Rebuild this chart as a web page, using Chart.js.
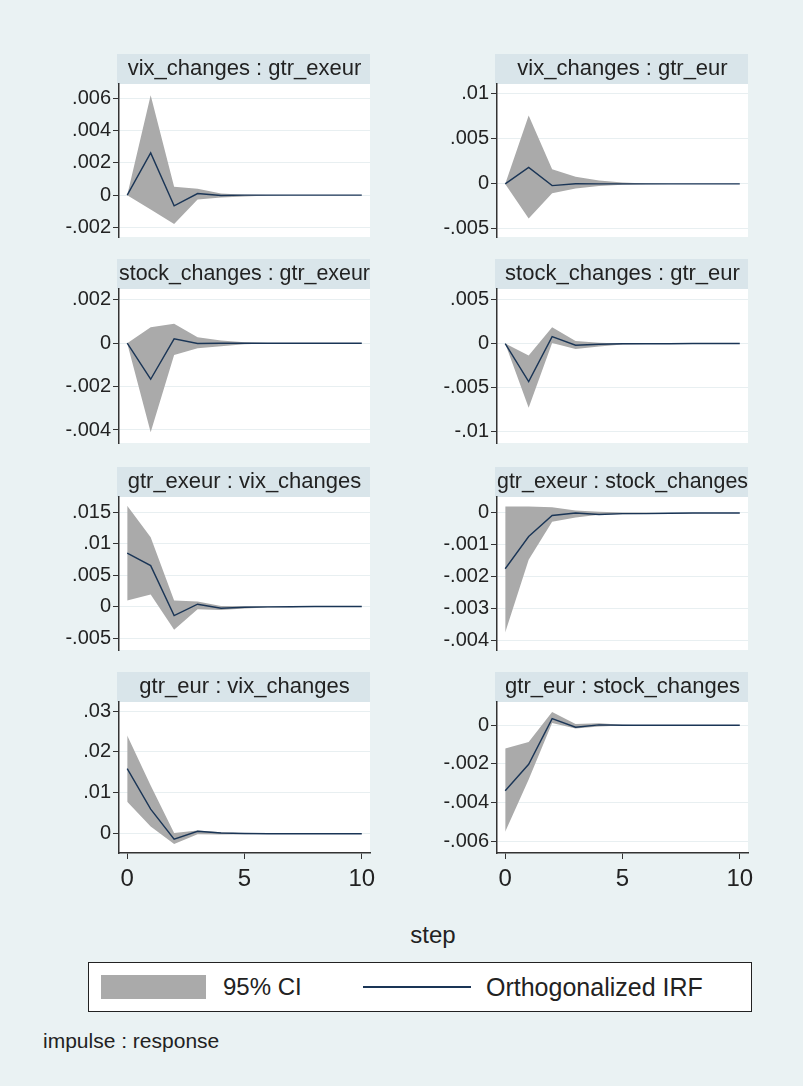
<!DOCTYPE html>
<html>
<head>
<meta charset="utf-8">
<title>IRF</title>
<script src="https://cdn.jsdelivr.net/npm/chart.js@4.4.1/dist/chart.umd.min.js"></script>
<style>
  body { margin:0; background:#eaf2f3; width:803px; height:1086px; position:relative; overflow:hidden;
         font-family:"Liberation Sans", Arial, sans-serif; color:#222; }
  canvas { position:absolute; }
  .txt { position:absolute; white-space:nowrap; line-height:1; }
  #legend { position:absolute; left:88px; top:962px; width:662px; height:48px; border:1px solid #222; background:#fff; }
</style>
</head>
<body>
<div class="txt" style="left:433px;top:935px;transform:translate(-50%,-50%);font-size:24px">step</div>
<div id="legend">
  <div style="position:absolute;left:12px;top:12px;width:105px;height:24px;background:#aaaaaa"></div>
  <div class="txt" style="left:134px;top:24px;transform:translateY(-50%);font-size:24px">95% CI</div>
  <div style="position:absolute;left:274px;top:23px;width:108px;height:2px;background:#1a3556"></div>
  <div class="txt" style="left:397px;top:24px;transform:translateY(-50%);font-size:25px">Orthogonalized IRF</div>
</div>
<div class="txt" style="left:43px;top:1040px;transform:translateY(-50%);font-size:21px">impulse : response</div>

<script>
const steps = [0, 1, 2, 3, 4, 5, 6, 7, 8, 9, 10];
const xTicks = [0, 5, 10];

// impulse : response panels (irf, lower, upper)
const vixExeurIrf = [0, .00262, -.00066, .0001, -.00002, 0, 0, 0, 0, 0, 0];
const vixExeurLo  = [0, -.0009, -.0018, -.00027, -.00015, -.00008, -.00003, 0, 0, 0, 0];
const vixExeurHi  = [0, .0062, .00052, .0004, .0001, .00003, .00001, 0, 0, 0, 0];

const vixEurIrf = [0, .00183, -.00019, .00001, 0, 0, 0, 0, 0, 0, 0];
const vixEurLo  = [0, -.00384, -.00104, -.0005, -.00022, -.0001, -.00004, 0, 0, 0, 0];
const vixEurHi  = [0, .0076, .00164, .0008, .00037, .00015, .00005, 0, 0, 0, 0];

const stockExeurIrf = [0, -.00166, .0002, -.00001, 0, 0, 0, 0, 0, 0, 0];
const stockExeurLo  = [0, -.0041, -.00054, -.00023, -.00014, -.00005, -.00001, 0, 0, 0, 0];
const stockExeurHi  = [0, .00074, .0009, .00028, .00012, .00004, .00001, 0, 0, 0, 0];

const stockEurIrf = [0, -.00433, .00078, -.00019, -.00007, -.00002, -.00002, -.00002, 0, 0, 0];
const stockEurLo  = [0, -.0073, .00005, -.00063, -.00033, -.0001, -.00006, -.00005, 0, 0, 0];
const stockEurHi  = [0, -.00137, .00185, .0003, .0001, .00002, .00001, .00001, 0, 0, 0];

const exeurVixIrf = [.0085, .0065, -.00144, .00037, -.00027, -.0001, -.00005, -.00003, 0, 0, 0];
const exeurVixLo  = [.00096, .0019, -.0037, -.00043, -.00053, -.0003, -.00015, -.0001, 0, 0, 0];
const exeurVixHi  = [.016, .011, .00096, .0008, .0001, .00005, .00002, .00001, 0, 0, 0];

const exeurStockIrf = [-.00175, -.00074, -.00008, 0, -.00005, -.00002, -.00002, -.00001, 0, 0, 0];
const exeurStockLo  = [-.00375, -.00147, -.00028, -.00014, -.00006, -.00004, -.00003, -.00003, -.00001, 0, 0];
const exeurStockHi  = [.0002, .0002, .00018, .00008, .00004, .00001, .00001, 0, 0, 0, 0];

const eurVixIrf = [.0159, .006, -.0013, .0006, .0002, .00005, 0, 0, 0, 0, 0];
const eurVixLo  = [.0078, .0018, -.0025, -.0001, -.0002, -.0001, -.00002, 0, 0, 0, 0];
const eurVixHi  = [.024, .0118, .0002, .0008, .0004, .0001, .00002, 0, 0, 0, 0];

const eurStockIrf = [-.00338, -.00202, .00034, -.0001, .00002, 0, 0, 0, 0, 0, 0];
const eurStockLo  = [-.0055, -.0028, .00012, -.00017, -.00007, -.00001, 0, 0, 0, 0, 0];
const eurStockHi  = [-.0012, -.00087, .00068, .00007, .0001, .00002, 0, 0, 0, 0, 0];

// y tick labels per panel
const vixExeurTicks   = [-.002, 0, .002, .004, .006];
const vixEurTicks     = [-.005, 0, .005, .01];
const stockExeurTicks = [-.004, -.002, 0, .002];
const stockEurTicks   = [-.01, -.005, 0, .005];
const exeurVixTicks   = [-.005, 0, .005, .01, .015];
const exeurStockTicks = [-.004, -.003, -.002, -.001, 0];
const eurVixTicks     = [0, .01, .02, .03];
const eurStockTicks   = [-.006, -.004, -.002, 0];

const panels = [
  { title:'vix_changes : gtr_exeur', irf:vixExeurIrf, lo:vixExeurLo, hi:vixExeurHi, ticks:vixExeurTicks, min:-.0026, max:.0069 },
  { title:'vix_changes : gtr_eur', irf:vixEurIrf, lo:vixEurLo, hi:vixEurHi, ticks:vixEurTicks, min:-.0059, max:.0111 },
  { title:'stock_changes : gtr_exeur', irf:stockExeurIrf, lo:stockExeurLo, hi:stockExeurHi, ticks:stockExeurTicks, min:-.0046, max:.0025 },
  { title:'stock_changes : gtr_eur', irf:stockEurIrf, lo:stockEurLo, hi:stockEurHi, ticks:stockEurTicks, min:-.0113, max:.0062 },
  { title:'gtr_exeur : vix_changes', irf:exeurVixIrf, lo:exeurVixLo, hi:exeurVixHi, ticks:exeurVixTicks, min:-.0069, max:.0174 },
  { title:'gtr_exeur : stock_changes', irf:exeurStockIrf, lo:exeurStockLo, hi:exeurStockHi, ticks:exeurStockTicks, min:-.0043, max:.0005 },
  { title:'gtr_eur : vix_changes', irf:eurVixIrf, lo:eurVixLo, hi:eurVixHi, ticks:eurVixTicks, min:-.0047, max:.0322 },
  { title:'gtr_eur : stock_changes', irf:eurStockIrf, lo:eurStockLo, hi:eurStockHi, ticks:eurStockTicks, min:-.0066, max:.0012 },
];

const FONT = '"Liberation Sans", Arial, sans-serif';
const colLeft = [20, 400], axisW = [99, 97], plotW = 251;
const plotTop = [84, 289, 497, 702], plotBottom = [237, 443, 650, 853];
const TITLE_H = 30, PAD = 16, XAXIS_H = 44;

const fmt = v => Math.abs(v) < 1e-12 ? '0' : String(Number(v.toFixed(4))).replace('0.', '.');
const pts = arr => steps.map((s, i) => ({ x: s, y: arr[i] }));

// white plot region + title band
const bgPlugin = {
  id: 'bg',
  beforeDraw(c) {
    const { ctx, chartArea: a } = c;
    ctx.save();
    ctx.fillStyle = '#d9e5ea';
    ctx.fillRect(a.left - 2, a.top - TITLE_H, a.right - a.left + 2, TITLE_H);
    ctx.fillStyle = '#ffffff';
    ctx.fillRect(a.left, a.top, a.right - a.left, a.bottom - a.top);
    ctx.restore();
  }
};

panels.forEach((p, i) => {
  const col = i % 2, row = Math.floor(i / 2), last = row === 3;
  const cv = document.createElement('canvas');
  const w = axisW[col] + plotW + PAD;
  const h = TITLE_H + (plotBottom[row] - plotTop[row]) + (last ? XAXIS_H : PAD);
  cv.width = w; cv.height = h;
  cv.style.left = colLeft[col] + 'px';
  cv.style.top = (plotTop[row] - TITLE_H) + 'px';
  document.body.appendChild(cv);

  new Chart(cv, {
    type: 'line',
    data: {
      datasets: [
        { data: pts(p.hi), fill: '+1', backgroundColor: '#aaaaaa', borderWidth: 0, pointRadius: 0, order: 1 },
        { data: pts(p.lo), fill: false, borderWidth: 0, pointRadius: 0, order: 2 },
        { data: pts(p.irf), fill: false, borderColor: '#1a3556', borderWidth: 1.4, pointRadius: 0, order: 0 }
      ]
    },
    options: {
      responsive: false, animation: false, devicePixelRatio: 1,
      layout: { padding: { left: 0, right: PAD, top: 0, bottom: last ? 0 : PAD } },
      plugins: {
        legend: { display: false }, tooltip: { enabled: false },
        title: { display: true, text: p.title, fullSize: false, color: '#222',
                 font: { family: FONT, size: 22, weight: 'normal', lineHeight: 26 / 22 },
                 padding: { top: 2, bottom: 2 } }
      },
      scales: {
        x: {
          type: 'linear', min: -0.35, max: 10.35, display: last,
          afterBuildTicks: s => { s.ticks = xTicks.map(v => ({ value: v })); },
          afterFit: s => { if (last) s.height = XAXIS_H; },
          border: { display: true, color: '#333', width: 1.5 },
          grid: { drawOnChartArea: false, drawTicks: true, tickLength: 6, tickColor: '#333' },
          ticks: { color: '#222', font: { family: FONT, size: 24 }, padding: 6, maxRotation: 0 }
        },
        y: {
          min: p.min, max: p.max,
          afterBuildTicks: s => { s.ticks = p.ticks.map(v => ({ value: v })); },
          afterFit: s => { s.width = axisW[col]; },
          border: { display: true, color: '#333', width: 1.5 },
          grid: { color: '#e8eff1', lineWidth: 1, tickLength: 6, tickColor: '#333' },
          ticks: { color: '#222', font: { family: FONT, size: 20 }, padding: 2, callback: v => fmt(v) }
        }
      }
    },
    plugins: [bgPlugin]
  });
});
</script>
</body>
</html>
